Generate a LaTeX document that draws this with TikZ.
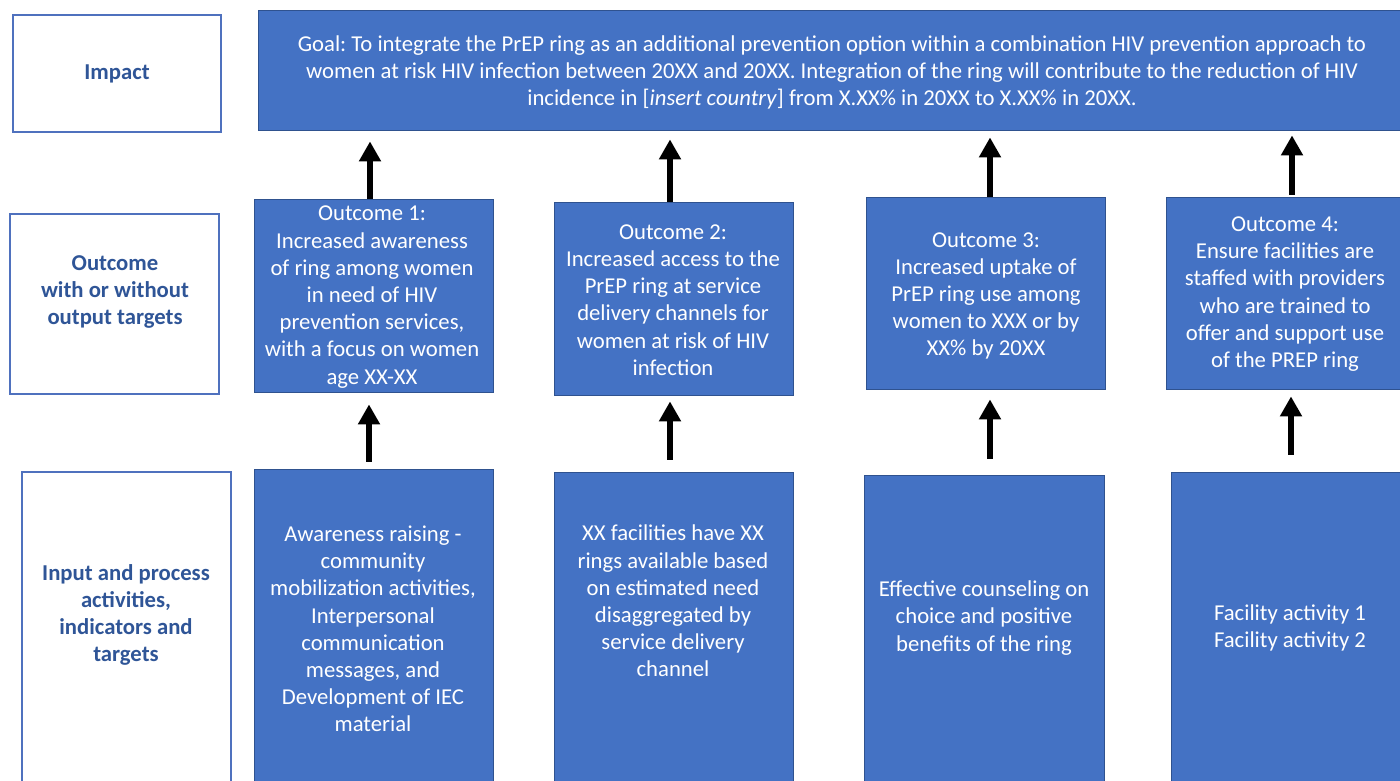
\documentclass[tikz,border=0pt]{standalone}
\usepackage{fontspec}
\setmainfont{Carlito}
\usetikzlibrary{arrows.meta}
\definecolor{boxblue}{HTML}{4472C4}
\definecolor{boxedge}{HTML}{2F528F}
\definecolor{labblue}{HTML}{2F5597}
\definecolor{labedge}{HTML}{4F71BE}
\frenchspacing
\begin{document}
\begin{tikzpicture}[x=1pt,y=-1pt,
 bluebox/.style={draw=boxedge, line width=0.8pt, fill=boxblue, inner sep=0pt},
 labbox/.style={draw=labedge, line width=1.2pt, fill=white, inner sep=0pt},
 txt/.style={text=white, font=\fontsize{22.7}{27.2}\selectfont, align=center, inner sep=0pt},
 labtxt/.style={text=labblue, font=\fontsize{22.7}{27.2}\selectfont\bfseries, align=center, inner sep=0pt},
 uparrow/.style={line width=6.5pt, -{Triangle[width=21pt,length=20pt]}}]
\useasboundingbox (0,0) rectangle (1400,780);
\clip (0,0) rectangle (1400,780);
\fill[white] (0,0) rectangle (1400,780);

% left labels
\node[labbox, minimum width=208pt, minimum height=117pt] (limpact) at (117,73.5) {};
\node[labtxt] (timpact) at (117,74) {Impact};
\node[labbox, minimum width=209pt, minimum height=180pt] (loutcome) at (114.5,304) {};
\node[labtxt] (toutcome) at (115,292) {Outcome\\with or without\\output targets};
\node[labbox, minimum width=209pt, minimum height=328pt] (linput) at (126.5,636) {};
\node[labtxt] (tinput) at (126,615) {Input and process\\activities,\\indicators and\\targets};

% goal
\node[bluebox, minimum width=1162pt, minimum height=120pt] (goal) at (839,70) {};
\node[txt] (tgoal) at (832,72.5) {Goal: To integrate the PrEP ring as an additional prevention option within a combination HIV prevention approach to\\women at risk HIV infection between 20XX and 20XX. Integration of the ring will contribute to the reduction of HIV\\incidence in [\textit{insert country}] from X.XX\% in 20XX to X.XX\% in 20XX.};

% outcomes
\node[bluebox, minimum width=239pt, minimum height=193pt] (out1) at (373.5,295.5) {};
\node[txt] (tout1) at (372,297) {Outcome 1:\\Increased awareness\\of ring among women\\in need of HIV\\prevention services,\\with a focus on women\\age XX-XX};
\node[bluebox, minimum width=239pt, minimum height=193pt] (out2) at (673.5,298.5) {};
\node[txt] (tout2) at (673,300) {Outcome 2:\\Increased access to the\\PrEP ring at service\\delivery channels for\\women at risk of HIV\\infection};
\node[bluebox, minimum width=239pt, minimum height=192pt] (out3) at (985.5,293) {};
\node[txt] (tout3) at (986,296) {Outcome 3:\\Increased uptake of\\PrEP ring use among\\women to XXX or by\\XX\% by 20XX};
\node[bluebox, minimum width=244pt, minimum height=192pt] (out4) at (1288,293) {};
\node[txt] (tout4) at (1285,294) {Outcome 4:\\Ensure facilities are\\staffed with providers\\who are trained to\\offer and support use\\of the PREP ring};

% inputs
\node[bluebox, minimum width=239pt, minimum height=331pt] (in1) at (373.5,634.5) {};
\node[txt] (tin1) at (373,629) {Awareness raising -\\community\\mobilization activities,\\Interpersonal\\communication\\messages, and\\Development of IEC\\material};
\node[bluebox, minimum width=239pt, minimum height=328pt] (in2) at (673.5,636) {};
\node[txt] (tin2) at (673,601) {XX facilities have XX\\rings available based\\on estimated need\\disaggregated by\\service delivery\\channel};
\node[bluebox, minimum width=240pt, minimum height=325pt] (in3) at (984,637.5) {};
\node[txt] (tin3) at (984,618) {Effective counseling on\\choice and positive\\benefits of the ring};
\node[bluebox, minimum width=239pt, minimum height=328pt] (in4) at (1290.5,636) {};
\node[txt] (tin4) at (1290,628) {Facility activity 1\\Facility activity 2};

% arrows outcome -> goal
\draw[uparrow, shorten >=11pt] ([xshift=-3.5pt]out1.north) -- ([xshift=-3.5pt]out1.north |- goal.south);
\draw[uparrow, shorten >=9pt] ([xshift=-3.5pt]out2.north) -- ([xshift=-3.5pt]out2.north |- goal.south);
\draw[uparrow, shorten >=7pt] ([xshift=4.5pt]out3.north) -- ([xshift=4.5pt]out3.north |- goal.south);
\draw[uparrow, shorten >=5pt, shorten <=2pt] ([xshift=4pt]out4.north) -- ([xshift=4pt]out4.north |- goal.south);

% arrows input -> outcome
\draw[uparrow, shorten <=7pt, shorten >=12pt] ([xshift=-4.5pt]in1.north) -- ([xshift=-4.5pt]in1.north |- out1.south);
\draw[uparrow, shorten <=12pt, shorten >=6pt] ([xshift=-3.5pt]in2.north) -- ([xshift=-3.5pt]in2.north |- out2.south);
\draw[uparrow, shorten <=16pt, shorten >=10pt] ([xshift=6pt]in3.north) -- ([xshift=6pt]in3.north |- out3.south);
\draw[uparrow, shorten <=17pt, shorten >=7pt] ([xshift=0.5pt]in4.north) -- ([xshift=0.5pt]in4.north |- out4.south);
\end{tikzpicture}
\end{document}
